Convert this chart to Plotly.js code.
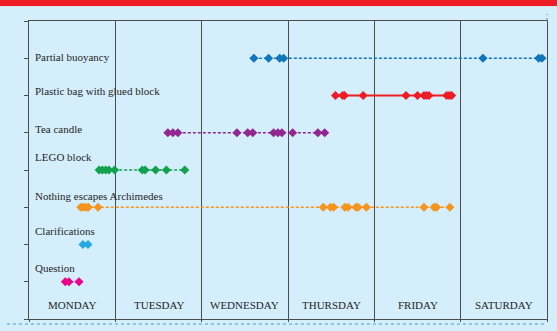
<!DOCTYPE html>
<html>
<head>
<meta charset="utf-8">
<script src="https://cdn.plot.ly/plotly-3.0.1.min.js"></script>
<style>
  html, body { margin: 0; padding: 0; background: #d4eefb; }
  #chart { width: 557px; height: 331px; }
</style>
</head>
<body>
<div id="chart"></div>
<script>
// Event times in hours since Monday 00:00
const days = ["MONDAY", "TUESDAY", "WEDNESDAY", "THURSDAY", "FRIDAY", "SATURDAY"];
const rows = ["Question", "Clarifications", "Nothing escapes Archimedes", "LEGO block", "Tea candle", "Plastic bag with glued block", "Partial buoyancy"];

const questionTimes = [10.1, 11.1, 13.9];
const clarificationsTimes = [15.0, 16.4];
const archimedesTimes = [14.4, 15.0, 15.8, 16.5, 19.2, 81.8, 83.8, 84.7, 87.8, 88.7, 90.9, 91.5, 93.8, 109.8, 112.6, 113.3, 117.0];
const legoTimes = [19.5, 20.4, 21.3, 22.2, 23.8, 31.5, 32.3, 35.2, 38.2, 43.3];
const teaCandleTimes = [38.6, 40.0, 41.4, 57.8, 60.8, 62.2, 68.0, 69.2, 70.3, 73.3, 80.3, 82.2];
const plasticBagTimes = [85.2, 87.2, 87.7, 92.9, 104.8, 108.0, 109.8, 110.5, 111.2, 116.1, 116.8, 117.5];
const buoyancyTimes = [62.5, 66.6, 69.7, 70.8, 126.2, 141.7, 142.6];

const series = [
  {row: 0, x: questionTimes, color: "#ec008c", dash: "3px,2px", width: 1.6},
  {row: 1, x: clarificationsTimes, color: "#27aae1", dash: "3px,2px", width: 1.6},
  {row: 2, x: archimedesTimes, color: "#f7941d", dash: "3px,2px", width: 1.6},
  {row: 3, x: legoTimes, color: "#12a24e", dash: "3px,2px", width: 1.6},
  {row: 4, x: teaCandleTimes, color: "#92278f", dash: "3px,2px", width: 1.6},
  {row: 5, x: plasticBagTimes, color: "#ee1c25", dash: "solid", width: 2},
  {row: 6, x: buoyancyTimes, color: "#0f75bc", dash: "3px,2px", width: 1.6}
];

const labelY = [0.36, 1.36, 2.30, 3.36, 4.11, 5.12, 6.04];

const traces = series.map(s => ({
  type: "scatter",
  mode: "lines+markers",
  x: s.x,
  y: s.x.map(() => s.row),
  line: {color: s.color, width: s.width, dash: s.dash},
  marker: {symbol: "diamond", size: 7, color: s.color},
  hoverinfo: "skip",
  showlegend: false
}));

const fontSpec = {family: "Liberation Serif", size: 11, color: "#262626"};
const annotations = [];
rows.forEach((r, i) => {
  annotations.push({
    x: 1.3, y: labelY[i], xref: "x", yref: "y", text: r, showarrow: false,
    xanchor: "left", yanchor: "middle", borderpad: 0, font: fontSpec
  });
});
days.forEach((d, i) => {
  annotations.push({
    x: 12 + 24 * i, y: -0.62, xref: "x", yref: "y", text: d, showarrow: false,
    xanchor: "center", yanchor: "middle", borderpad: 0, font: fontSpec
  });
});

const shapes = [
  {type: "rect", xref: "paper", yref: "paper", x0: -0.06, x1: 1.03, y0: 1.0503, y1: 1.08, fillcolor: "#ee1c25", line: {width: 0}, layer: "above"},
  {type: "line", xref: "paper", yref: "paper", x0: -0.06, x1: 1.03, y0: 1.0487, y1: 1.0487, line: {color: "#dde3e8", width: 1}},
  {type: "line", xref: "paper", yref: "paper", x0: -0.0425, x1: 1.0, y0: -0.0168, y1: -0.0168, line: {color: "#4a9ad8", width: 1, dash: "dot"}},
  {type: "line", xref: "paper", yref: "paper", x0: 1.0, x1: 1.0, y0: 1.0, y1: 1.0235, line: {color: "#3a8fd6", width: 1, dash: "dot"}}
];

const layout = {
  width: 557, height: 331,
  margin: {l: 29, r: 10, t: 21, b: 12},
  paper_bgcolor: "#d4eefb",
  plot_bgcolor: "#d4eefb",
  xaxis: {
    range: [0, 144], tickvals: [0, 24, 48, 72, 96, 120, 144],
    showticklabels: false, ticks: "outside", ticklen: 2, tickcolor: "#4d4d4d",
    showgrid: true, gridcolor: "#4d4d4d", gridwidth: 1,
    showline: true, linecolor: "#4d4d4d", linewidth: 1, mirror: true,
    zeroline: false, fixedrange: true
  },
  yaxis: {
    range: [-1, 7], tickvals: [-1, 0, 1, 2, 3, 4, 5, 6, 7],
    showticklabels: false, ticks: "outside", ticklen: 4, tickcolor: "#4d4d4d",
    showgrid: false, showline: true, linecolor: "#4d4d4d", linewidth: 1, mirror: true,
    zeroline: false, fixedrange: true
  },
  annotations: annotations,
  shapes: shapes
};

Plotly.newPlot("chart", traces, layout, {staticPlot: true, displayModeBar: false});
</script>
</body>
</html>
